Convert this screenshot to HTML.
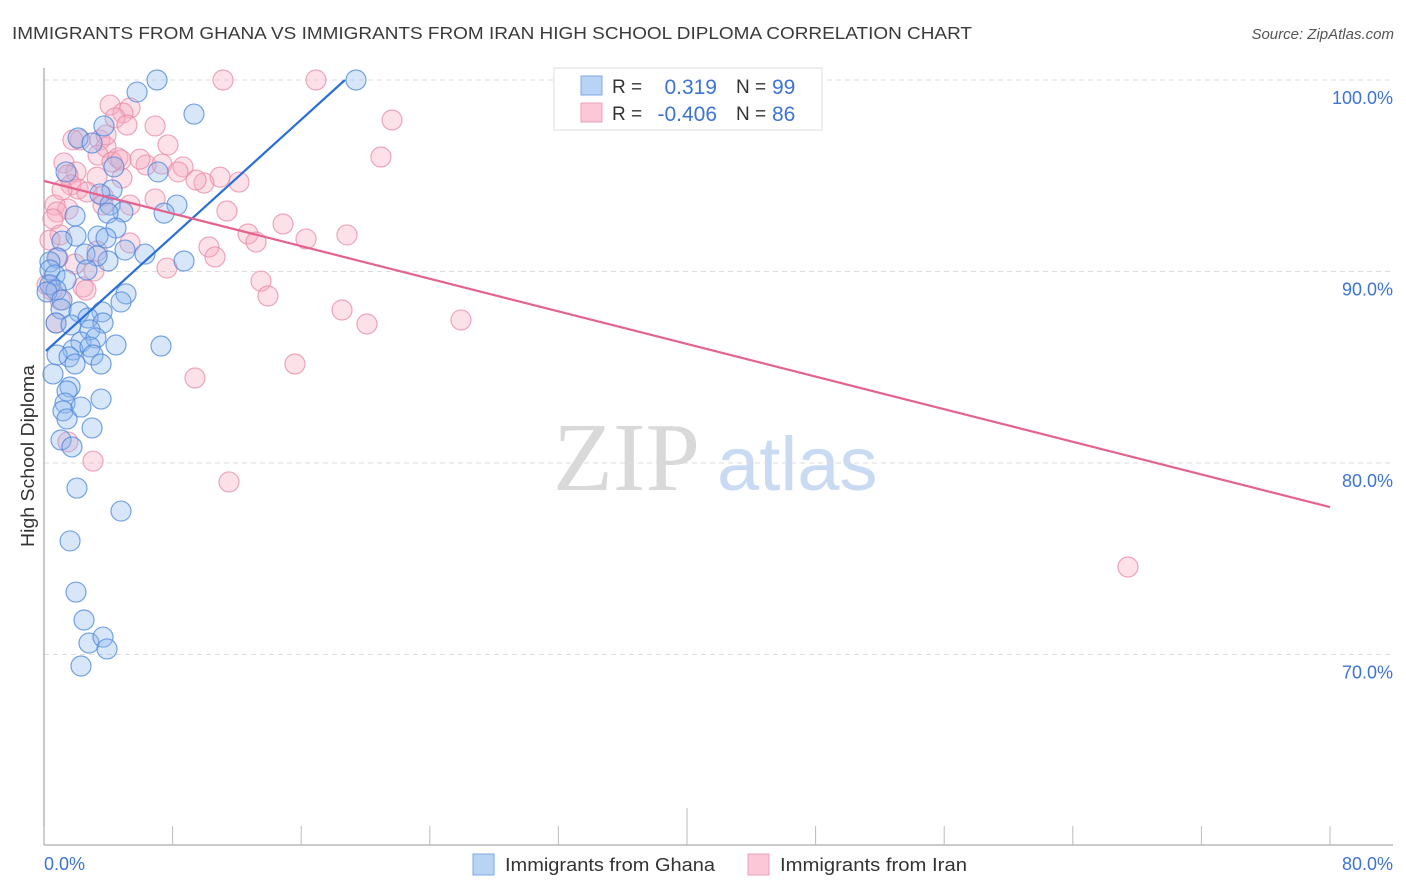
<!DOCTYPE html>
<html><head><meta charset="utf-8">
<style>
body{margin:0;background:#fff;width:1406px;height:892px;overflow:hidden;font-family:"Liberation Sans",sans-serif;}
svg{display:block}
</style></head>
<body>
<svg id="chart" width="1406" height="892" xmlns="http://www.w3.org/2000/svg">
<text x="12" y="39" font-size="17.5" fill="#3a3a3a" textLength="960" lengthAdjust="spacingAndGlyphs">IMMIGRANTS FROM GHANA VS IMMIGRANTS FROM IRAN HIGH SCHOOL DIPLOMA CORRELATION CHART</text>
<text x="1394" y="39" font-size="15" fill="#555" font-style="italic" text-anchor="end">Source: ZipAtlas.com</text>
<g>
<text x="553" y="490" font-family="Liberation Serif,serif" font-size="98" fill="#d9d9d9">ZIP</text>
<text x="717" y="490" font-size="76" fill="#c9daf3">atlas</text>
</g>
<g id="grid"></g>
<g id="axes"></g>
<g id="pinkPts"></g>
<g id="bluePts"></g>
<g id="trends"></g>
<text transform="translate(34,456) rotate(-90)" font-size="18" fill="#333" text-anchor="middle" textLength="182" lengthAdjust="spacingAndGlyphs">High School Diploma</text>
<g>
<rect x="554" y="68" width="268" height="62" fill="#fff" stroke="#ddd"/>
<rect x="581" y="76" width="21" height="19" fill="#b9d3f5" stroke="#7ea9e6"/>
<rect x="581" y="103" width="21" height="19" fill="#fcc8d7" stroke="#eda0b8"/>
<text x="612" y="93" font-size="19" fill="#333">R =</text>
<text x="717" y="94" font-size="21" fill="#3d73d6" text-anchor="end">0.319</text>
<text x="736" y="93" font-size="19" fill="#333">N =</text>
<text x="772" y="94" font-size="21" fill="#3d73d6">99</text>
<text x="612" y="120" font-size="19" fill="#333">R =</text>
<text x="717" y="121" font-size="21" fill="#3d73d6" text-anchor="end">-0.406</text>
<text x="736" y="120" font-size="19" fill="#333">N =</text>
<text x="772" y="121" font-size="21" fill="#3d73d6">86</text>
</g>
<g>
<rect x="473" y="854" width="21" height="21" fill="#b9d3f5" stroke="#7ea9e6"/>
<text x="505" y="871" font-size="18" fill="#333" textLength="210" lengthAdjust="spacingAndGlyphs">Immigrants from Ghana</text>
<rect x="748" y="854" width="21" height="21" fill="#fcc8d7" stroke="#eda0b8"/>
<text x="780" y="871" font-size="18" fill="#333" textLength="187" lengthAdjust="spacingAndGlyphs">Immigrants from Iran</text>
</g>
</svg>
<script>
const yTicks=[70,80,90,100];
const yTickLabels=["70.0%","80.0%","90.0%","100.0%"];
const xTicks=[0,8,16,24,32,40,48,56,64,72,80];
const xEndLabels=["0.0%","80.0%"];
const ghanaX=[7.03,19.41,5.79,9.33,3.73,2.12,2.99,4.35,1.37,7.09,4.23,3.48,8.27,7.47,4.11,4.91,3.98,1.93,4.48,3.36,1.99,1.12,3.86,6.28,5.04,2.55,0.81,0.37,3.98,3.30,8.71,0.37,2.67,0.68,1.37,0.37,0.75,0.19,1.12,5.10,4.79,1.06,2.18,3.61,2.74,0.75,1.68,3.67,2.86,2.30,3.23,4.48,7.28,1.80,2.86,0.81,1.56,3.05,1.93,3.55,0.56,1.62,1.43,3.55,1.31,1.18,2.30,1.43,2.99,1.06,1.74,2.05,4.79,1.62,1.99,2.49,2.80,3.67,3.92,2.30];
const ghanaY=[100,100,99.37,98.22,97.6,96.97,96.71,95.46,95.2,95.2,94.26,94.05,93.47,93.05,93.47,93.11,93.05,92.9,92.27,91.85,91.85,91.59,91.75,90.91,91.12,90.91,90.71,90.5,90.55,90.81,90.55,90.08,90.08,89.82,89.56,89.3,89.03,88.93,88.51,88.83,88.41,88.04,87.89,87.89,87.57,87.31,87.21,87.31,86.95,86.32,86.53,86.16,86.11,85.9,86.06,85.64,85.54,85.64,85.17,85.17,84.65,83.97,83.76,83.34,83.13,82.72,82.92,82.30,81.83,81.2,80.84,78.69,77.49,75.93,73.26,71.8,70.6,70.91,70.29,69.4];
const iranX=[11.14,16.92,21.65,20.96,4.11,5.35,4.91,4.42,5.16,6.91,7.71,2.24,1.80,3.48,3.86,3.36,4.6,4.23,1.24,6.35,8.65,7.34,8.34,1.99,1.49,3.30,4.85,10.95,12.13,9.95,9.46,1.68,2.12,1.12,2.67,3.67,6.91,0.68,1.49,0.81,3.67,5.35,11.38,0.56,12.69,13.19,14.87,16.30,18.85,1.0,0.37,5.35,10.26,10.64,3.30,1.93,0.87,13.5,13.93,7.65,2.43,2.61,3.11,18.54,20.09,25.94,9.39,15.61,11.51,3.05,1.49,67.43,0.75,1.0,0.5,0.19,3.86,4.79,5.97];
const iranY=[100,100,97.91,95.98,98.69,98.54,98.28,98.02,97.65,97.6,96.61,96.87,96.87,96.87,96.5,96.08,95.93,95.72,95.67,95.56,95.46,95.61,95.2,95.2,95.04,94.93,94.88,94.93,94.67,94.62,94.78,94.52,94.31,94.26,94.15,93.94,93.79,93.47,93.26,93.11,93.47,93.47,93.16,92.74,91.96,91.54,92.48,91.7,91.91,91.91,91.64,91.49,91.28,90.76,91.07,90.39,90.71,89.5,88.72,90.18,89.19,89.03,90.03,87.99,87.26,87.47,84.44,85.17,79.01,80.1,81.1,74.57,87.31,88.51,89.03,89.3,97.13,95.82,95.87];
const ghanaTrendX=[0.12,18.72];
const ghanaTrendY=[85.85,100];
const iranTrendX=[0,80];
const iranTrendY=[94.73,77.7];

const NS="http://www.w3.org/2000/svg";
function sx(v){return 44+v*(1330-44)/80;}
function sy(v){return 80+(100-v)*19.15;}
function mk(tag,attrs,parent){const e=document.createElementNS(NS,tag);for(const k in attrs)e.setAttribute(k,attrs[k]);parent.appendChild(e);return e;}

const grid=document.getElementById('grid');
yTicks.forEach((t,i)=>{
  const l=mk('line',{x1:44,x2:1393,y1:sy(t),y2:sy(t),stroke:'#dcdcdc','stroke-dasharray':'5,4'},grid);
  
  
  const tx=mk('text',{x:1393,y:sy(t)+24,'font-size':18,fill:'#3d73d6','text-anchor':'end'},grid);
  tx.textContent=yTickLabels[i];
  
  
});
const axes=document.getElementById('axes');
const ya=mk('line',{x1:44,x2:44,y1:68,y2:845,stroke:'#aaa','stroke-width':1.3},axes);


const xa=mk('line',{x1:44,x2:1393,y1:845,y2:845,stroke:'#aaa','stroke-width':1.3},axes);


xTicks.forEach(t=>{
  const tk=mk('line',{x1:sx(t),x2:sx(t),y1:(t===40?808:826),y2:845,stroke:'#bbb'},axes);
  
  
});
const l0=mk('text',{x:44,y:870,'font-size':18,fill:'#3d73d6'},axes);
l0.textContent=xEndLabels[0];


const l1=mk('text',{x:1393,y:870,'font-size':18,fill:'#3d73d6','text-anchor':'end'},axes);
l1.textContent=xEndLabels[1];



function pts(xs,ys,g,fill,stroke,name){
  xs.forEach((x,i)=>{
    const c=mk('circle',{cx:sx(x),cy:sy(ys[i]),r:10,fill:fill,'fill-opacity':0.35,stroke:stroke,'stroke-opacity':0.75,'stroke-width':1.2},g);
    
    
  });
}
pts(iranX,iranY,document.getElementById('pinkPts'),'#f7a8c0','#e88aa8','iran-point');
pts(ghanaX,ghanaY,document.getElementById('bluePts'),'#8fb8ee','#4a85dc','ghana-point');

const tr=document.getElementById('trends');
const tb=mk('line',{x1:sx(ghanaTrendX[0]),y1:sy(ghanaTrendY[0]),x2:sx(ghanaTrendX[1]),y2:sy(ghanaTrendY[1]),stroke:'#2a6ed6','stroke-width':2.2},tr);


const tp=mk('line',{x1:sx(iranTrendX[0]),y1:sy(iranTrendY[0]),x2:sx(iranTrendX[1]),y2:sy(iranTrendY[1]),stroke:'#e5628e','stroke-width':2.2},tr);


</script>
</body></html>
